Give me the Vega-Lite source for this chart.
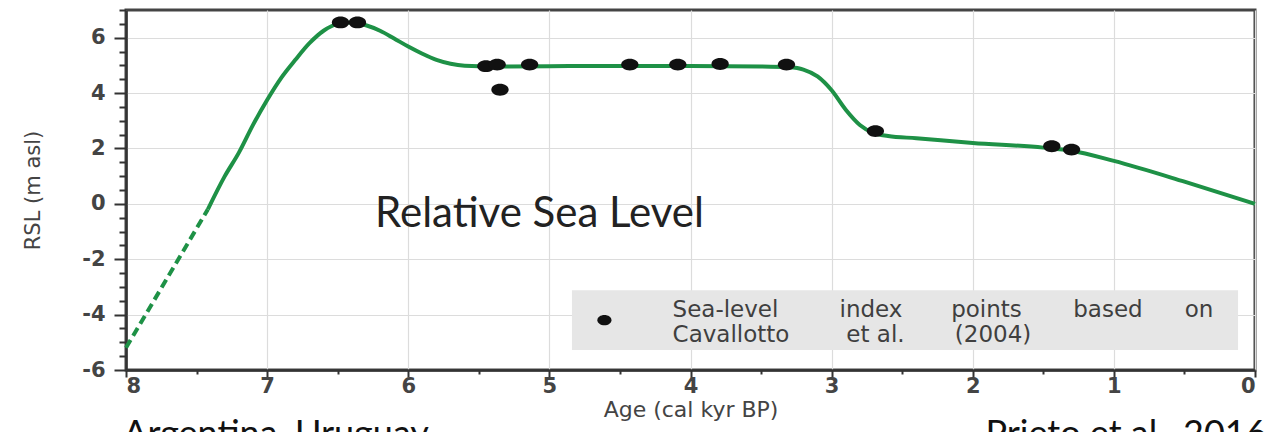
{
  "$schema": "https://vega.github.io/schema/vega-lite/v6.json",
  "width": 1129,
  "height": 360,
  "autosize": {"type": "none"},
  "padding": {"left": 126, "top": 10, "right": 16, "bottom": 62},
  "background": "white",
  "config": {
    "view": {"stroke": "#444444", "strokeWidth": 3},
    "axis": {
      "labelFont": "DejaVu Sans",
      "titleFont": "DejaVu Sans",
      "labelColor": "#444444",
      "titleColor": "#444444",
      "labelFontWeight": "bold",
      "domainColor": "#333333",
      "domainWidth": 2.5,
      "tickColor": "#333333",
      "tickWidth": 2
    }
  },
  "datasets": {
    "curve": [
      {"age": 8.0, "rsl": -5.2, "seg": "dashed"},
      {"age": 7.42, "rsl": -0.2, "seg": "dashed"},
      {"age": 7.42, "rsl": -0.2, "seg": "solid"},
      {"age": 7.3, "rsl": 1.0, "seg": "solid"},
      {"age": 7.2, "rsl": 1.85, "seg": "solid"},
      {"age": 7.1, "rsl": 2.85, "seg": "solid"},
      {"age": 7.0, "rsl": 3.75, "seg": "solid"},
      {"age": 6.9, "rsl": 4.55, "seg": "solid"},
      {"age": 6.8, "rsl": 5.2, "seg": "solid"},
      {"age": 6.7, "rsl": 5.8, "seg": "solid"},
      {"age": 6.6, "rsl": 6.25, "seg": "solid"},
      {"age": 6.5, "rsl": 6.5, "seg": "solid"},
      {"age": 6.4, "rsl": 6.55, "seg": "solid"},
      {"age": 6.3, "rsl": 6.45, "seg": "solid"},
      {"age": 6.2, "rsl": 6.25, "seg": "solid"},
      {"age": 6.1, "rsl": 5.97, "seg": "solid"},
      {"age": 6.0, "rsl": 5.68, "seg": "solid"},
      {"age": 5.9, "rsl": 5.42, "seg": "solid"},
      {"age": 5.8, "rsl": 5.2, "seg": "solid"},
      {"age": 5.7, "rsl": 5.06, "seg": "solid"},
      {"age": 5.6, "rsl": 4.99, "seg": "solid"},
      {"age": 5.4, "rsl": 4.96, "seg": "solid"},
      {"age": 5.0, "rsl": 4.97, "seg": "solid"},
      {"age": 4.5, "rsl": 4.98, "seg": "solid"},
      {"age": 4.0, "rsl": 4.98, "seg": "solid"},
      {"age": 3.5, "rsl": 4.96, "seg": "solid"},
      {"age": 3.3, "rsl": 4.93, "seg": "solid"},
      {"age": 3.2, "rsl": 4.85, "seg": "solid"},
      {"age": 3.1, "rsl": 4.6, "seg": "solid"},
      {"age": 3.0, "rsl": 4.1, "seg": "solid"},
      {"age": 2.9, "rsl": 3.4, "seg": "solid"},
      {"age": 2.8, "rsl": 2.85, "seg": "solid"},
      {"age": 2.7, "rsl": 2.55, "seg": "solid"},
      {"age": 2.6, "rsl": 2.45, "seg": "solid"},
      {"age": 2.4, "rsl": 2.37, "seg": "solid"},
      {"age": 2.0, "rsl": 2.2, "seg": "solid"},
      {"age": 1.5, "rsl": 2.03, "seg": "solid"},
      {"age": 1.3, "rsl": 1.92, "seg": "solid"},
      {"age": 1.0, "rsl": 1.55, "seg": "solid"},
      {"age": 0.5, "rsl": 0.8, "seg": "solid"},
      {"age": 0.0, "rsl": 0.0, "seg": "solid"}
    ],
    "points": [
      {"age": 6.48, "rsl": 6.55},
      {"age": 6.36, "rsl": 6.55},
      {"age": 5.45, "rsl": 4.97},
      {"age": 5.37, "rsl": 5.03},
      {"age": 5.35, "rsl": 4.12},
      {"age": 5.14, "rsl": 5.03},
      {"age": 4.43, "rsl": 5.03},
      {"age": 4.09, "rsl": 5.03},
      {"age": 3.79, "rsl": 5.05},
      {"age": 3.32, "rsl": 5.03},
      {"age": 2.69, "rsl": 2.63},
      {"age": 1.44, "rsl": 2.08},
      {"age": 1.3, "rsl": 1.96}
    ]
  },
  "encoding": {
    "x": {
      "field": "age", "type": "quantitative",
      "scale": {"domain": [8, 0], "nice": false, "zero": false},
      "axis": {
        "title": "Age (cal kyr BP)",
        "titleFontSize": 22, "titleFontWeight": "normal", "titlePadding": 3,
        "values": [0, 0.5, 1, 1.5, 2, 2.5, 3, 3.5, 4, 4.5, 5, 5.5, 6, 6.5, 7, 7.5, 8],
        "labelExpr": "datum.value % 1 == 0 ? toString(datum.value) : ''",
        "labelFontSize": 21, "labelPadding": -2,
        "tickSize": {"condition": {"test": "datum.value % 1 == 0", "value": 7}, "value": 4},
        "grid": true,
        "gridColor": {"condition": {"test": "datum.value % 1 == 0", "value": "#dcdcdc"}, "value": "transparent"},
        "gridWidth": 1.2
      }
    },
    "y": {
      "field": "rsl", "type": "quantitative",
      "scale": {"domain": [-6, 7], "nice": false, "zero": false},
      "axis": {
        "title": "RSL (m asl)",
        "titleFontSize": 21, "titleFontWeight": "normal", "titlePadding": 38,
        "values": [-6, -5.5, -5, -4.5, -4, -3.5, -3, -2.5, -2, -1.5, -1, -0.5, 0, 0.5, 1, 1.5, 2, 2.5, 3, 3.5, 4, 4.5, 5, 5.5, 6, 6.5, 7],
        "labelExpr": "datum.value % 2 == 0 ? toString(datum.value) : ''",
        "labelFontSize": 21, "labelPadding": 9,
        "tickSize": {"condition": {"test": "datum.value % 2 == 0", "value": 12}, "value": 7},
        "grid": true,
        "gridColor": {"condition": {"test": "datum.value % 2 == 0", "value": "#dcdcdc"}, "value": "transparent"},
        "gridWidth": 1.2
      }
    }
  },
  "layer": [
    {
      "data": {"values": [{"x1": 4.84, "x2": 0.12, "y1": -3.12, "y2": -5.28}]},
      "mark": {"type": "rect", "color": "#e6e6e6"},
      "encoding": {
        "x": {"field": "x1", "type": "quantitative"},
        "x2": {"field": "x2"},
        "y": {"field": "y1", "type": "quantitative"},
        "y2": {"field": "y2"}
      }
    },
    {
      "data": {"name": "curve"},
      "transform": [{"filter": "datum.seg == 'dashed'"}],
      "mark": {"type": "line", "color": "#1e9146", "strokeWidth": 4, "strokeDash": [9, 5]}
    },
    {
      "data": {"name": "curve"},
      "transform": [{"filter": "datum.seg == 'solid'"}],
      "mark": {"type": "line", "color": "#1e9146", "strokeWidth": 4, "interpolate": "monotone"}
    },
    {
      "data": {"name": "points"},
      "mark": {"type": "point", "filled": true, "color": "#111111", "opacity": 1, "size": 300,
               "shape": "M-1,0 A1,0.68 0 1,0 1,0 A1,0.68 0 1,0 -1,0 Z"}
    },
    {
      "data": {"values": [{"age": 4.61, "rsl": -4.2}]},
      "mark": {"type": "point", "filled": true, "color": "#111111", "opacity": 1, "size": 200,
               "shape": "M-1,0 A1,0.72 0 1,0 1,0 A1,0.72 0 1,0 -1,0 Z"}
    },
    {
      "data": {"values": [
        {"age": 3.752, "rsl": -4.09, "t": "Sea-level", "st": "normal"},
        {"age": 2.721, "rsl": -4.09, "t": "index", "st": "normal"},
        {"age": 1.903, "rsl": -4.09, "t": "points", "st": "normal"},
        {"age": 1.042, "rsl": -4.09, "t": "based", "st": "normal"},
        {"age": 0.397, "rsl": -4.09, "t": "on", "st": "normal"},
        {"age": 3.713, "rsl": -4.99, "t": "Cavallotto", "st": "normal"},
        {"age": 2.689, "rsl": -4.99, "t": "et al.", "st": "italic"},
        {"age": 1.856, "rsl": -4.99, "t": "(2004)", "st": "normal"}
      ]},
      "mark": {"type": "text", "align": "center", "baseline": "alphabetic", "font": "DejaVu Sans", "fontSize": 23, "color": "#3f3f3f"},
      "encoding": {
        "text": {"field": "t"},
        "fontStyle": {"field": "st", "type": "nominal", "scale": null}
      }
    },
    {
      "data": {"values": [{"age": 5.07, "rsl": -0.85, "t": "Relative Sea Level"}]},
      "mark": {"type": "text", "align": "center", "baseline": "alphabetic", "font": "Lato", "fontSize": 42, "color": "#222222"},
      "encoding": {"text": {"field": "t"}}
    },
    {
      "data": {"values": [
        {"age": 8.02, "rsl": -7.72, "t": "Argentina, Uruguay"},
        {"age": 1.91, "rsl": -7.72, "t": "Prieto et al., 2016"}
      ]},
      "mark": {"type": "text", "align": "left", "baseline": "top", "font": "Lato", "fontSize": 36, "color": "#111111"},
      "encoding": {"text": {"field": "t"}}
    }
  ]
}
